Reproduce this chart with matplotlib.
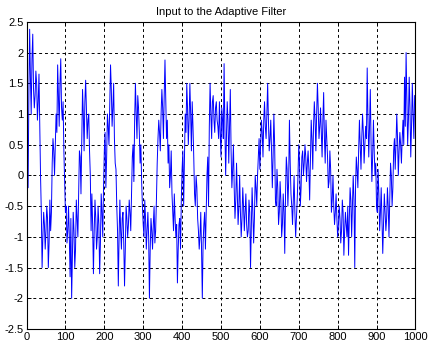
import numpy as np
import matplotlib
matplotlib.use("Agg")
import matplotlib.pyplot as plt

# Signal values at samples 0, 4, 8, ... 996
signal_even = [
    0.6, -0.2, 2.38, 1.0, 2.3, 1.1, 1.7, 0.9, 1.65, 0.0,
    -1.5, -0.6, -1.2, -0.5, -1.5, -0.4, -0.6, 0.6, 0.0, 1.0,
    1.8, 0.8, 1.9, 0.9, 0.4, -0.6, -1.1, -0.5, -1.65, -2.0,
    -0.6, -1.5, -0.4, -1.0, 0.4, -0.3, 1.4, 0.4, 1.55, 0.6,
    1.0, 0.0, -0.3, -1.6, -0.4, -1.2, -0.5, -1.6, -0.3, -1.0,
    0.4, -0.2, 1.0, 0.5, 1.8, 0.8, 1.5, 0.2, -0.5, -1.8,
    -0.4, -1.2, -0.6, -1.8, -0.5, -1.0, -0.4, -0.9, 0.3, -0.1,
    1.5, 0.6, 1.1, 0.2, -0.1, -0.8, -0.4, -1.2, -0.6, -2.0,
    -0.7, -1.2, -0.5, -0.9, 0.2, 0.9, 0.4, 1.4, 0.6, 1.88,
    0.6, 0.2, -0.2, 0.4, -0.6, -0.3, -1.0, -1.75, -0.8, -1.2,
    0.1, -0.5, 1.0, 1.5, 0.5, 1.5, 0.4, 0.8, -0.3, 0.0,
    -0.7, -1.2, -0.6, -2.0, -0.8, -1.2, 0.0, -0.5, 1.5, 0.6,
    1.3, 0.7, 1.2, 0.8, 1.2, 0.3, 0.9, 1.82, 0.0, 1.2,
    0.2, 1.4, -0.2, 0.5, -0.7, 0.2, -0.8, 0.0, -1.0, -0.2,
    -0.9, -0.3, -1.0, -0.4, -1.5, -0.2, -1.1, 0.0, -0.5, 0.3,
    0.1, 0.9, 0.3, 1.2, 0.6, 1.5, 0.4, 0.9, -0.2, 1.0,
    -0.4, 0.1, -0.8, -0.1, -1.0, -0.3, -1.27, 0.3, -0.5, 0.9,
    -0.3, -0.8, 0.0, -1.0, -0.4, 0.5, -0.5, 0.3, 0.0, 0.5,
    -0.1, 0.4, -0.4, 0.9, 0.1, 1.2, 0.4, 1.5, 0.6, 1.1,
    0.3, 1.35, 0.2, 0.6, -0.2, 0.4, -0.6, 0.0, -0.8, -0.3,
    -1.0, -0.5, -1.1, -0.4, -1.3, -0.6, -1.0, -1.3, -0.2, -1.0,
    0.0, -1.5, 0.3, -0.2, 0.9, 0.1, 1.0, 0.2, 0.8, 1.75,
    0.3, 1.4, -0.1, 0.9, 0.0, -0.5, 0.1, -0.9, -0.2, -1.27,
    -0.3, -0.9, -0.2, -1.0, 0.2, -0.5, 0.4, 0.1, 1.0, 0.0,
    0.7, 0.2, 0.9, 1.6, 2.0, 0.5, 1.6, 0.3, 1.5, 0.6,
]
# Signal values at samples 2, 6, 10, ... 998
signal_odd = [
    0.2, 1.3, 1.6, 1.9, 1.4, 1.3, 1.5, 1.2, 0.8, -0.6,
    -1.0, -0.8, -0.9, -0.7, -1.1, -0.9, 0.2, 0.4, 0.5, 0.7,
    1.3, 1.5, 1.1, 1.2, -0.1, -0.5, -0.9, -1.0, -0.7, -1.3,
    -0.9, -1.2, -0.7, -0.3, 0.3, 0.6, 1.0, 1.2, 1.1, 0.9,
    0.4, -0.9, -0.8, -0.9, -0.7, -1.0, -0.8, -1.1, -0.6, -0.2,
    0.7, 0.3, 0.8, 1.2, 1.4, 1.1, 0.6, 0.1, -0.9, -1.0,
    -0.9, -0.7, -1.1, -1.2, -0.7, -0.8, -0.6, -0.3, 0.5, 0.9,
    1.0, 1.3, 0.7, 0.5, -0.5, -1.0, -0.7, -0.9, -1.0, -1.2,
    -0.9, -0.8, -1.1, -0.4, 0.6, 0.7, 1.0, 1.1, 1.3, 1.2,
    0.9, 0.5, 0.0, -0.3, -0.9, -0.7, -0.8, -1.2, -0.7, -0.4,
    0.4, 0.3, 0.7, 1.1, 0.9, 1.0, 1.2, 0.3, -0.5, -0.2,
    -0.9, -1.0, -1.2, -1.1, -0.6, -0.6, 0.3, 0.8, 1.0, 1.2,
    0.9, 1.1, 0.9, 0.6, 0.7, 1.1, 0.6, 0.8, 0.6, 0.9,
    0.8, 0.4, 0.1, -0.2, -0.4, -0.3, -0.5, -0.6, -0.7, -0.5,
    -0.6, -0.8, -0.9, -0.6, -0.8, -0.6, -0.7, -0.2, 0.0, 0.6,
    0.5, 0.7, 0.9, 0.8, 1.0, 0.9, 0.6, 0.4, 0.3, 0.5,
    -0.5, -0.2, -0.6, -0.4, -0.8, -0.6, -0.3, 0.1, -0.1, 0.2,
    -0.5, -0.4, -0.6, -0.7, 0.0, 0.2, -0.2, 0.4, 0.2, 0.3,
    0.2, 0.1, 0.3, 0.6, 0.8, 0.9, 1.0, 1.1, 0.8, 0.7,
    0.9, 0.6, 0.9, 0.3, -0.1, 0.1, -0.4, -0.5, -0.6, -0.7,
    -0.8, -0.7, -0.9, -0.6, -0.9, -0.8, -0.5, -0.7, -0.4, -0.5,
    -0.4, -0.2, 0.1, 0.4, 0.5, 0.6, 0.7, 0.5, 0.6, 0.9,
    0.8, 0.5, 0.3, 0.4, 0.2, -0.6, -0.3, -0.6, -0.7, -0.8,
    -0.6, -0.7, -0.5, -0.4, 0.0, -0.2, 0.6, 0.5, 0.6, 0.4,
    0.5, 0.6, 0.5, 0.8, 1.2, 0.9, 1.1, 0.8, 1.0, 1.3,
]
sample_step = 2
x_ticks = [0, 100, 200, 300, 400, 500, 600, 700, 800, 900, 1000]
y_ticks = [-2.5, -2, -1.5, -1, -0.5, 0, 0.5, 1, 1.5, 2, 2.5]
y_tick_labels = ["-2.5", "-2", "-1.5", "-1", "-0.5", "0", "0.5", "1", "1.5", "2", "2.5"]
title = "Input to the Adaptive Filter"

plt.rcParams['font.family'] = ['Liberation Sans', 'DejaVu Sans']

signal = np.empty(len(signal_even) + len(signal_odd))
signal[0::2] = signal_even
signal[1::2] = signal_odd
n = np.arange(len(signal)) * sample_step

fig = plt.figure(figsize=(4.35, 3.53), dpi=100)
ax = fig.add_axes([0.061, 0.068, 0.894, 0.870])

ax.plot(n, signal, color=(0, 0, 1), linewidth=0.7)

ax.set_xlim(0, 1000)
ax.set_ylim(-2.5, 2.5)
ax.set_xticks(x_ticks)
ax.set_xticklabels([str(t) for t in x_ticks])
ax.set_yticks(y_ticks)
ax.set_yticklabels(y_tick_labels)
ax.grid(True, color='black', linestyle=(0, (3, 3)), linewidth=0.7)
ax.tick_params(direction='in', length=3, width=0.7, labelsize=8,
               top=True, right=True, pad=2, colors='black')
for s in ax.spines.values():
    s.set_linewidth(0.8)
ax.set_title(title, fontsize=8, pad=5)

fig.savefig("out.png", dpi=100)
